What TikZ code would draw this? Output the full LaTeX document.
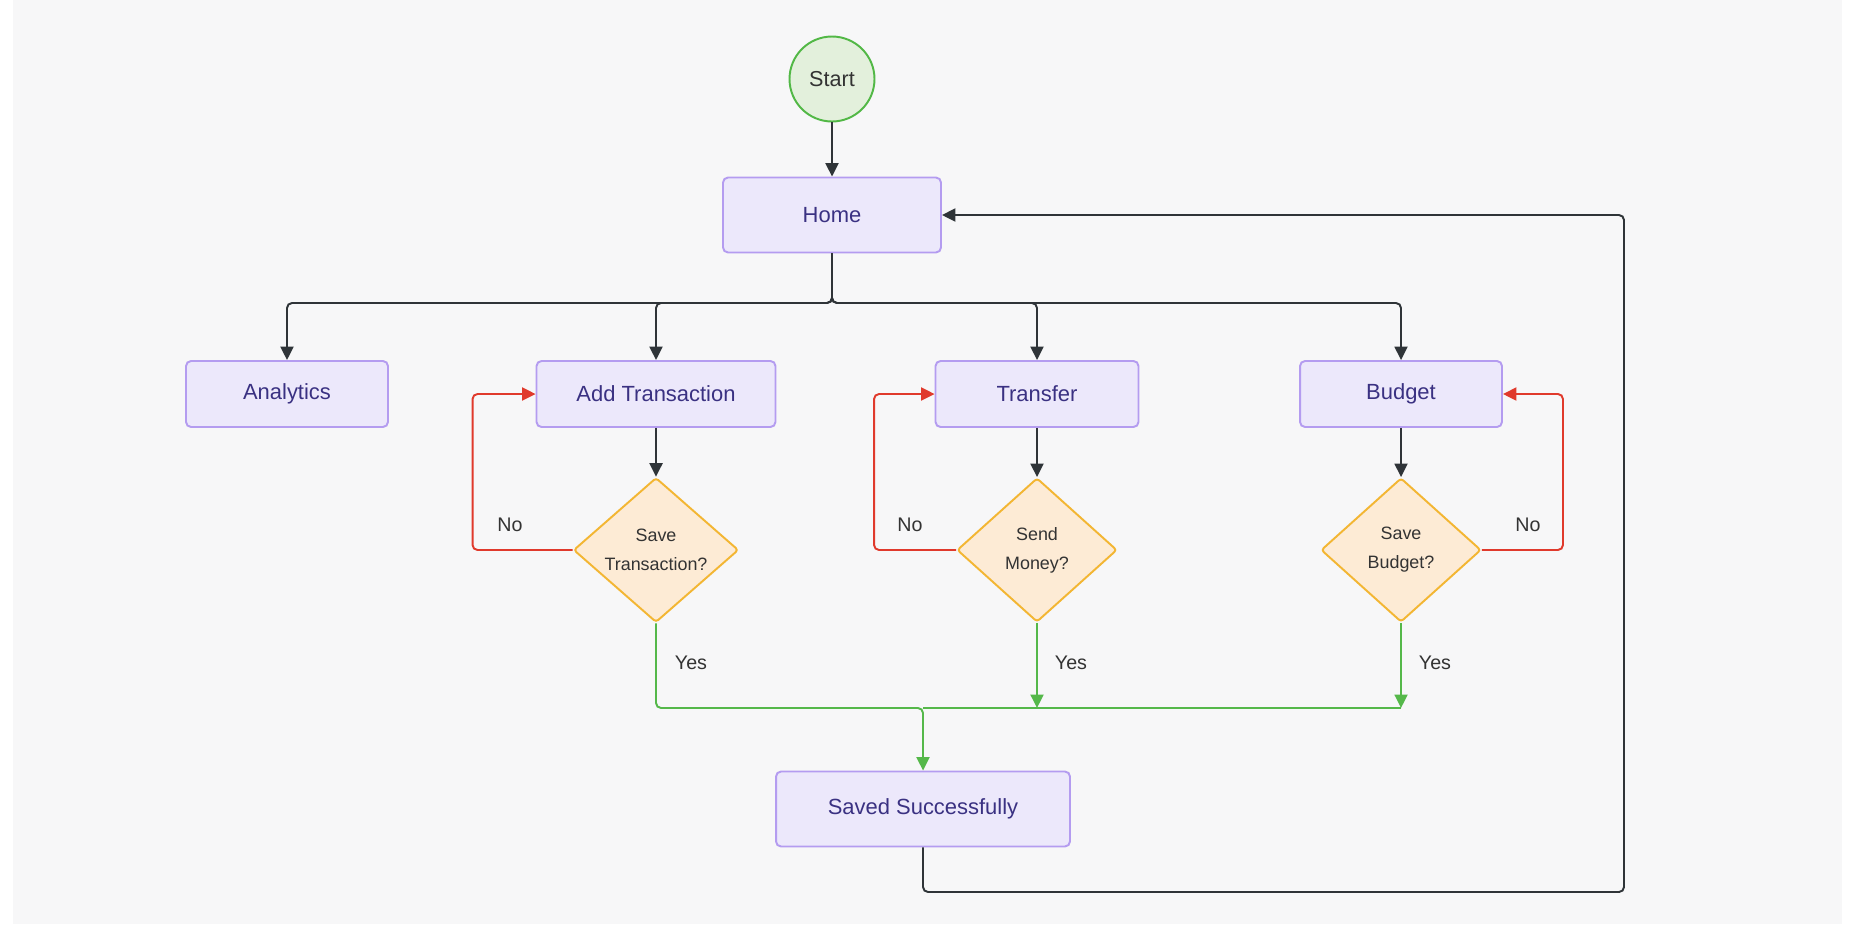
\documentclass[tikz,border=0pt]{standalone}
\usepackage{fontspec}
\setmainfont{Liberation Sans}
\usepackage{xcolor}
\usepackage{tikz}
\usetikzlibrary{shapes.geometric, arrows.meta}
\definecolor{PageGray}{HTML}{F7F7F8}
\definecolor{BoxFill}{HTML}{ECE8FB}
\definecolor{BoxLine}{HTML}{B49CF0}
\definecolor{BoxText}{HTML}{3A3182}
\definecolor{StartFill}{HTML}{E3F0DC}
\definecolor{StartLine}{HTML}{52B846}
\definecolor{AskFill}{HTML}{FDEBD5}
\definecolor{AskLine}{HTML}{F3B633}
\definecolor{NoRed}{HTML}{E03A2C}
\definecolor{YesGreen}{HTML}{55B84A}
\definecolor{FlowDark}{HTML}{2F3438}
\definecolor{LabelText}{HTML}{333333}

\begin{document}
\begin{tikzpicture}[x=0.02cm, y=-0.02cm,
  screen/.style={rectangle, rounded corners=0.1cm, draw=BoxLine, fill=BoxFill,
    line width=1.1pt, minimum height=1.32cm, font=\fontsize{12.5}{15}\selectfont, text=BoxText},
  begin/.style={circle, draw=StartLine, fill=StartFill, line width=1.1pt,
    minimum size=1.7cm, inner sep=0pt, font=\fontsize{12.3}{15}\selectfont, text=LabelText},
  ask/.style={diamond, draw=AskLine, fill=AskFill, line width=1.1pt, inner sep=0pt,
    minimum width=3.2cm, minimum height=2.88cm, rounded corners=0.06cm, align=center,
    font=\fontsize{10.2}{16.5}\selectfont, text=LabelText},
  tip/.style={-{Triangle[length=0.27cm, width=0.26cm]}},
  flow/.style={draw=FlowDark, line width=1.1pt, rounded corners=0.1cm},
  nope/.style={draw=NoRed, line width=1.1pt, rounded corners=0.1cm},
  yep/.style={draw=YesGreen, line width=1.1pt, rounded corners=0.1cm},
  lbl/.style={font=\fontsize{11.2}{13}\selectfont, text=LabelText}
]
\useasboundingbox (0,0) rectangle (1856,924);
\fill[white] (0,0) rectangle (1856,924);
\fill[PageGray] (13,0) rectangle (1842,924);

\node[begin] (start) at (832,79) {Start};
\node[screen, minimum width=4.36cm, minimum height=1.5cm] (home) at (832,215) {Home};
\node[screen, minimum width=4.04cm] (analytics) at (287,394) {Analytics};
\node[screen, minimum width=4.78cm] (addtx) at (656,394) {Add Transaction};
\node[screen, minimum width=4.06cm] (transfer) at (1037,394) {Transfer};
\node[screen, minimum width=4.04cm] (budget) at (1401,394) {Budget};
\node[ask, minimum width=3.3cm] (savetx) at (656,550) {Save\\Transaction?};
\node[ask] (sendmoney) at (1037,550) {Send\\Money?};
\node[ask] (savebudget) at (1401,550) {Save\\Budget?};
\node[screen, minimum width=5.88cm, minimum height=1.5cm] (saved) at (923,809) {Saved Successfully};

\coordinate (split) at (832,303);
\coordinate (merge) at (923,708);
\coordinate (back) at (1624,892);

\draw[flow, tip] (start) -- (home);
\draw[flow, tip] (home.south) -- (split) -| (analytics.north);
\draw[flow, tip] (home.south) -- (split) -| (addtx.north);
\draw[flow, tip] (home.south) -- (split) -| (transfer.north);
\draw[flow, tip] (home.south) -- (split) -| (budget.north);

\draw[flow, tip] (addtx) -- (savetx);
\draw[flow, tip] (transfer) -- (sendmoney);
\draw[flow, tip] (budget) -- (savebudget);

\draw[nope, tip] (savetx.west) -- ++(-100,0) |- (addtx.west);
\draw[nope, tip] (sendmoney.west) -- ++(-82,0) |- (transfer.west);
\draw[nope, tip] (savebudget.east) -- ++(81,0) |- (budget.east);
\node[lbl] (no1) at (510,525) {No};
\node[lbl] (no2) at (910,525) {No};
\node[lbl] (no3) at (1528,525) {No};

\draw[yep, tip] (savetx.south) |- (merge) -- (saved.north);
\draw[yep, tip] (sendmoney.south) -- (sendmoney.south |- merge);
\draw[yep, tip] (savebudget.south) -- (savebudget.south |- merge);
\draw[yep] (savebudget.south |- merge) -- (merge);
\node[lbl] (yes1) at (691,663) {Yes};
\node[lbl] (yes2) at (1071,663) {Yes};
\node[lbl] (yes3) at (1435,663) {Yes};

\draw[flow, tip] (saved.south) |- (back) |- (home.east);
\end{tikzpicture}
\end{document}
